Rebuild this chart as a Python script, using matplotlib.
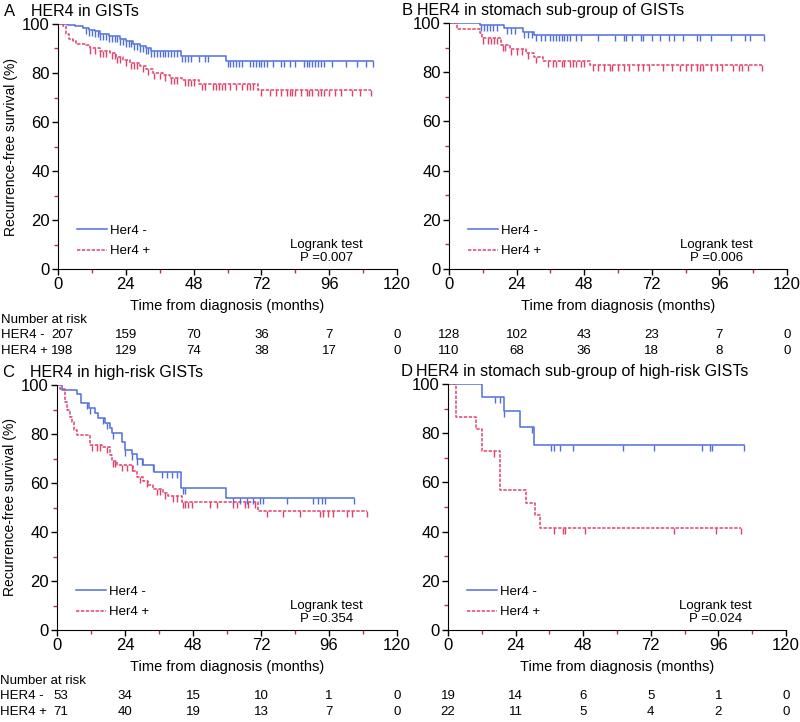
import matplotlib.pyplot as plt
from matplotlib.transforms import blended_transform_factory

plt.rcParams['font.family'] = ['Liberation Sans', 'DejaVu Sans']

# step drops: (time in months, survival %) ; censor times
a_neg_t = [0, 3.5, 6, 8.8, 11, 13, 15, 18, 22, 24, 26.5, 29, 31, 33, 43.7, 59.6, 111.5]
a_neg_s = [100, 99.5, 99, 98.5, 97.5, 97, 96, 95, 94, 93, 92, 91, 90, 89, 87, 85, 85]
a_neg_c = [10, 11, 12, 13, 14, 15, 16, 17, 18, 19, 20, 21, 22, 23, 24, 25, 26, 27, 28, 29, 30,
           31, 32, 33, 34, 35, 36, 37, 38, 39, 40, 41, 42, 44, 45, 46, 47, 50, 52, 53,
           60, 61, 62, 63, 64, 65, 68, 69, 70, 71, 72, 73, 74, 76, 79, 80, 82, 84, 87, 88, 89,
           90, 91, 92, 93, 94, 97, 102, 106, 109, 111.5]
a_pos_t = [0, 1.8, 3, 4, 5.3, 6.5, 10, 11.2, 14.7, 18.3, 20.6, 23, 25.4, 29, 31, 33.6, 37, 39.5,
           44, 50, 70.8, 110.9]
a_pos_s = [100, 99, 96, 94, 93, 92, 91.5, 90, 89, 88, 86.5, 85.5, 84, 83, 81.5, 80, 79, 78,
           77, 75.5, 73, 73]
a_pos_c = [11.5, 13, 15, 16, 17, 19, 20, 21, 22, 24, 26, 27, 28, 30, 32, 34, 36, 38, 40, 41, 42,
           45, 46, 47, 48, 51, 52, 55, 56, 57, 58, 59, 61, 63, 65, 67, 68, 69, 72, 75, 77, 79, 81,
           82, 83, 84, 86, 88, 89, 90, 92, 93, 94, 96, 98, 100, 104, 107, 110.9]

b_neg_t = [0, 10.9, 19.7, 26.2, 30.3, 111.8]
b_neg_s = [100, 99, 98, 96.4, 95.3, 95.3]
b_neg_c = [11.5, 12.5, 13.5, 14.5, 15.5, 17, 20.5, 22, 23.5, 26.5, 28, 29.5, 31, 32.5, 34, 36,
           37, 38, 39, 40, 41, 42, 43, 45, 47, 53, 59, 62, 63, 65, 68, 69, 72, 75, 78, 80,
           83, 88, 89, 93, 100, 105, 107, 111.8]
b_pos_t = [0, 2.7, 10.9, 11.8, 18.5, 21.5, 27.3, 30.3, 33.2, 50.2, 111]
b_pos_s = [100, 97.6, 96, 93.8, 91, 89.5, 88, 86, 84.7, 83, 83]
b_pos_c = [12, 14, 15, 16, 17, 19, 20, 22, 24, 26, 28, 31, 35, 37, 38, 40, 41, 43, 44, 45, 47,
           48, 51, 53, 55, 57, 58, 60, 62, 64, 67, 69, 71, 76, 79, 82, 84, 86, 88, 89, 90,
           93, 95, 97, 101, 103, 104, 106, 111]

c_neg_t = [0, 1.6, 6.9, 8.4, 11.4, 13.4, 14.6, 16.9, 18.7, 19.3, 22.8, 24, 26.4, 28.1, 30.5,
           34.2, 43.8, 59.6, 104.8]
c_neg_s = [100, 98, 96.2, 92.5, 90.5, 88.4, 86.4, 84.4, 82.3, 80.5, 76.9, 73.5, 71.7, 69.7,
           67.3, 64.6, 58, 54, 54]
c_neg_c = [10.7, 11.6, 16.4, 17.6, 19.7, 24, 26.4, 28.1, 29.9, 34, 37, 38.7, 40.5, 42.2, 44.6,
           45.2, 62.2, 64.6, 66.9, 69.3, 71.6, 72.8, 81, 90.4, 92.2, 93.4, 94.6, 104.8]
c_pos_t = [0, 1.1, 2.8, 3.4, 4.6, 5.2, 6, 7.2, 11.6, 15.8, 18.7, 19.3, 21, 26.9, 28.1, 30.5,
           32.2, 34, 37.5, 39.3, 44, 71, 109.3]
c_pos_s = [100, 98.5, 93.2, 89.8, 87, 85, 81.6, 79.6, 75.5, 74.5, 71.4, 69, 67.5, 64.9, 62.6,
           60.8, 59.2, 57.4, 56, 54.7, 52.4, 48.7, 48.7]
c_pos_c = [12.2, 14, 15.2, 17.5, 19.9, 20.5, 22.8, 24.6, 26.4, 29.3, 31.7, 35.2, 36.4, 38.1,
           41.1, 42.2, 44.6, 45.2, 46.4, 47.6, 54, 56.4, 62.2, 63.4, 66.3, 67.5, 69.9, 74,
           79.9, 85.8, 92.8, 94, 95.8, 97.5, 102.2, 104, 109.3]

d_neg_t = [0, 11.9, 19.8, 25.7, 30.6, 105.1]
d_neg_s = [100, 94.7, 88.9, 82.5, 75.3, 75.3]
d_neg_c = [16.6, 18.4, 19.8, 29.7, 36.7, 37.6, 39.6, 44.4, 62.3, 73.3, 90.1, 92.9, 93.8, 105.1]
d_pos_t = [0, 2.7, 9.9, 11.9, 18.6, 27.6, 30.8, 32.6, 104]
d_pos_s = [100, 86.4, 81.8, 72.7, 57, 51.8, 46.6, 41.4, 41.4]
d_pos_c = [16.4, 37.6, 40.8, 41.4, 48.5, 80.1, 95.1, 104]

titles = ['HER4 in GISTs', 'HER4 in stomach sub-group of GISTs',
          'HER4 in high-risk GISTs', 'HER4 in stomach sub-group of high-risk GISTs']
letters = ['A', 'B', 'C', 'D']
pvals = ['0.007', '0.006', '0.354', '0.024']
risk_times = [0, 24, 48, 72, 96, 120]
risk_neg = [[207, 159, 70, 36, 7, 0], [128, 102, 43, 23, 7, 0],
            [53, 34, 15, 10, 1, 0], [19, 14, 6, 5, 1, 0]]
risk_pos = [[198, 129, 74, 38, 17, 0], [110, 68, 36, 18, 8, 0],
            [71, 40, 19, 13, 7, 0], [22, 11, 5, 4, 2, 0]]

curves = [(a_neg_t, a_neg_s, a_neg_c, a_pos_t, a_pos_s, a_pos_c),
          (b_neg_t, b_neg_s, b_neg_c, b_pos_t, b_pos_s, b_pos_c),
          (c_neg_t, c_neg_s, c_neg_c, c_pos_t, c_pos_s, c_pos_c),
          (d_neg_t, d_neg_s, d_neg_c, d_pos_t, d_pos_s, d_pos_c)]

blue = '#4f6fdc'
red = '#e0426a'
minor_col = '#b8333f'

W, H = 800, 722
boxes = [(58, 24, 339, 245), (449, 23, 338, 246), (57, 385, 340, 245), (448, 384, 338, 246)]

fig = plt.figure(figsize=(8, 7.22), dpi=100)


def surv_at(ts, ss, t):
    v = ss[0]
    for ti, si in zip(ts, ss):
        if ti <= t:
            v = si
    return v


for i in range(4):
    l, t, w, h = boxes[i]
    ax = fig.add_axes([l / W, 1 - (t + h) / H, w / W, h / H])
    nt, ns, nc, pt, ps, pc = curves[i]
    ax.step(nt, ns, where='post', color=blue, lw=1.1, label='Her4 -')
    ax.step(pt, ps, where='post', color=red, lw=1.1, ls=(0, (2.2, 1.0)), label='Her4 +')
    ax.plot(nc, [surv_at(nt, ns, c) for c in nc], ls='none', marker=3, ms=4.5,
            mew=1.0, color=blue)
    ax.plot(pc, [surv_at(pt, ps, c) for c in pc], ls='none', marker=3, ms=4.5,
            mew=1.0, color=red)

    ax.set_xlim(0, 120)
    ax.set_ylim(0, 100)
    ax.spines['top'].set_visible(False)
    ax.spines['right'].set_visible(False)
    ax.set_xticks(risk_times)
    ax.set_yticks([0, 20, 40, 60, 80, 100])
    ax.set_xticks([12, 36, 60, 84, 108], minor=True)
    ax.set_yticks([10, 30, 50, 70, 90], minor=True)
    ax.tick_params(which='major', length=4, width=1, labelsize=12, pad=2)
    ax.tick_params(which='minor', length=3, width=1, color=minor_col)
    ax.set_xlabel('Time from diagnosis (months)', fontsize=10.5, labelpad=5)
    if i in (0, 2):
        ax.set_ylabel('Recurrence-free survival (%)', fontsize=10, labelpad=3)

    ax.text(-0.16 if i in (0, 2) else -0.14, 1.02, letters[i], transform=ax.transAxes,
            fontsize=12, va='bottom')
    ax.text(-0.08 if i in (0, 2) else -0.095, 1.02, titles[i], transform=ax.transAxes,
            fontsize=11.5, va='bottom')

    ax.legend(loc='lower left', bbox_to_anchor=(0.02, 0.0), frameon=False, fontsize=9.5,
              handlelength=2.3, handletextpad=0.2, labelspacing=0.6)
    ax.text(95, 2, 'Logrank test\nP =' + pvals[i], ha='center', va='bottom', fontsize=9.5,
            linespacing=1.1)

    tr = blended_transform_factory(ax.transData, ax.transAxes)
    if i in (0, 2):
        ax.text(-20, -0.21, 'Number at risk', transform=tr, fontsize=9.5, va='center')
        ax.text(-20, -0.27, 'HER4 -', transform=tr, fontsize=9.5, va='center')
        ax.text(-20, -0.333, 'HER4 +', transform=tr, fontsize=9.5, va='center')
    for k, x in enumerate(risk_times):
        xx = x + (1.5 if (k == 0 and i in (0, 2)) else 0)
        ax.text(xx, -0.27, str(risk_neg[i][k]), transform=tr, fontsize=9.5,
                ha='center', va='center')
        ax.text(xx, -0.333, str(risk_pos[i][k]), transform=tr, fontsize=9.5,
                ha='center', va='center')

fig.savefig('out.png', dpi=100)
